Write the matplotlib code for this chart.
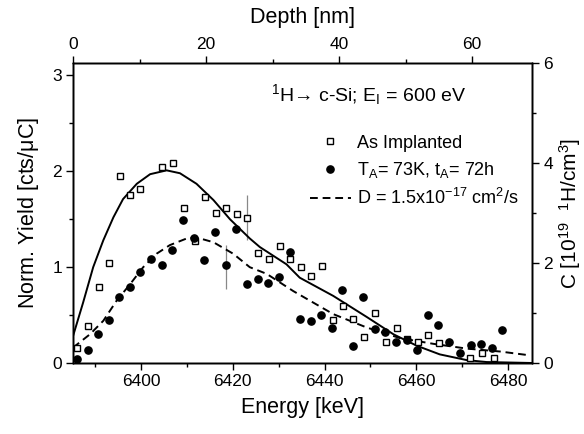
import matplotlib
matplotlib.use("Agg")
import matplotlib.pyplot as plt
from matplotlib.ticker import MultipleLocator

plt.rcParams['font.family'] = ['Liberation Sans', 'DejaVu Sans']
plt.rcParams['mathtext.fontset'] = 'custom'
plt.rcParams['mathtext.rm'] = 'Liberation Sans'
plt.rcParams['mathtext.it'] = 'Liberation Sans:italic'
plt.rcParams['mathtext.bf'] = 'Liberation Sans:bold'

# as implanted (open squares)
imp_E = [6386.1, 6388.5, 6390.8, 6393.0, 6395.4, 6397.7, 6399.9, 6404.6, 6407.0,
         6409.4, 6411.7, 6413.9, 6416.3, 6418.6, 6420.9, 6423.2, 6425.6, 6427.9,
         6430.2, 6432.5, 6434.9, 6437.1, 6439.4, 6441.8, 6444.1, 6446.3, 6448.7,
         6451.0, 6453.4, 6455.7, 6458.0, 6460.3, 6462.6, 6465.0, 6471.7, 6474.2,
         6477.0]
imp_Y = [0.16, 0.39, 0.79, 1.04, 1.95, 1.75, 1.82, 2.05, 2.09,
         1.62, 1.27, 1.73, 1.57, 1.62, 1.55, 1.51, 1.15, 1.09,
         1.22, 1.08, 1.00, 0.91, 1.01, 0.45, 0.59, 0.46, 0.27,
         0.52, 0.22, 0.37, 0.25, 0.22, 0.29, 0.21, 0.05, 0.10,
         0.05]

# annealed 73K, 72h (filled dots)
ann_E = [6386.0, 6388.4, 6390.6, 6393.0, 6395.3, 6397.6, 6399.9, 6402.2, 6404.5,
         6406.8, 6409.2, 6411.5, 6413.8, 6416.1, 6418.5, 6420.8, 6423.2, 6425.4,
         6427.7, 6430.1, 6432.4, 6434.7, 6437.0, 6439.3, 6441.6, 6443.9, 6446.3,
         6448.4, 6450.9, 6453.2, 6455.6, 6457.9, 6460.2, 6462.5, 6464.8, 6467.2,
         6469.5, 6471.8, 6474.1, 6476.4, 6478.7]
ann_Y = [0.045, 0.14, 0.30, 0.45, 0.69, 0.79, 0.95, 1.09, 1.02,
         1.18, 1.49, 1.30, 1.07, 1.37, 1.02, 1.40, 0.82, 0.88,
         0.83, 0.90, 1.16, 0.46, 0.44, 0.50, 0.37, 0.76, 0.18,
         0.69, 0.35, 0.32, 0.22, 0.24, 0.14, 0.50, 0.40, 0.22,
         0.10, 0.19, 0.20, 0.16, 0.34]

# single error bars
err_imp = (6423.2, 1.28, 1.75)
err_ann = (6418.5, 0.77, 1.23)

# fit curves
fit_E = [6385.2, 6387.4, 6389.6, 6391.8, 6394.0, 6396.1, 6399.1, 6402.0, 6405.6,
         6408.5, 6412.1, 6415.8, 6419.4, 6423.7, 6425.9, 6431.7, 6434.6, 6441.9,
         6449.2, 6455.0, 6460.1, 6465.1, 6471.0, 6475.3, 6485.2]
fit_Y = [0.28, 0.63, 1.00, 1.28, 1.52, 1.71, 1.87, 1.97, 2.01,
         1.98, 1.87, 1.70, 1.50, 1.30, 1.21, 1.03, 0.89, 0.70,
         0.48, 0.30, 0.18, 0.09, 0.03, 0.01, 0.0]

dif_E = [6385.2, 6388.9, 6391.8, 6394.7, 6397.6, 6400.5, 6403.4, 6406.3, 6410.0,
         6412.1, 6415.8, 6420.1, 6423.7, 6427.4, 6433.2, 6441.9, 6449.2, 6456.4,
         6463.7, 6471.0, 6478.2, 6484.7]
dif_Y = [0.16, 0.30, 0.44, 0.65, 0.82, 1.00, 1.14, 1.23, 1.30,
         1.31, 1.26, 1.14, 1.00, 0.93, 0.75, 0.51, 0.37, 0.26,
         0.20, 0.15, 0.12, 0.08]

fig = plt.figure(figsize=(5.84, 4.34), dpi=100)
ax = fig.add_axes([0.125, 0.1636, 0.786, 0.6912])

ax.vlines([err_imp[0], err_ann[0]], [err_imp[1], err_ann[1]], [err_imp[2], err_ann[2]],
          color='#888888', lw=0.9, zorder=1)
ax.plot(fit_E, fit_Y, '-', color='black', lw=1.4, zorder=2)
ax.plot(dif_E, dif_Y, '--', color='black', lw=1.4, dashes=(4, 2.5), zorder=2,
        label=r'D = 1.5x10$^\mathregular{-17}$ cm$^\mathregular{2}$/s')
ax.plot(imp_E, imp_Y, 's', mfc='white', mec='black', mew=1.0, ms=4.6, ls='none',
        zorder=3, label='As Implanted')
ax.plot(ann_E, ann_Y, 'o', color='black', ms=5.2, ls='none', zorder=3,
        label=r'T$_\mathregular{A}$= 73K, t$_\mathregular{A}$= 72h')

ax.set_xlim(6385.2, 6485.2)
ax.set_ylim(0, 3.13)
ax.xaxis.set_major_locator(MultipleLocator(20))
ax.xaxis.set_minor_locator(MultipleLocator(10))
ax.yaxis.set_major_locator(MultipleLocator(1))
ax.yaxis.set_minor_locator(MultipleLocator(0.5))
ax.set_xlabel('Energy [keV]', fontsize=15.5, labelpad=6)
ax.set_ylabel(r'Norm. Yield [cts/$\mathregular{\mu}$C]', fontsize=15.5, labelpad=8)

# top axis: depth
axt = ax.twiny()
axt.set_xlim(0, 69)
axt.xaxis.set_major_locator(MultipleLocator(20))
axt.xaxis.set_minor_locator(MultipleLocator(10))
axt.set_xlabel('Depth [nm]', fontsize=15.5, labelpad=10)

# right axis: concentration
axr = ax.twinx()
axr.set_ylim(0, 6)
axr.yaxis.set_major_locator(MultipleLocator(2))
axr.yaxis.set_minor_locator(MultipleLocator(1))
axr.set_ylabel(r'C [10$^\mathregular{19}$  $^\mathregular{1}$H/cm$^\mathregular{3}$]',
               fontsize=15, labelpad=3)

for a in (ax, axt, axr):
    a.tick_params(which='major', direction='out', length=5, width=1.0, labelsize=12.5, pad=3)
    a.tick_params(which='minor', direction='out', length=3, width=1.0)
    for s in a.spines.values():
        s.set_linewidth(1.0)

ax.text(0.643, 0.895, '$^\\mathregular{1}$H\u2192 c-Si; E$_\\mathregular{I}$ = 600 eV',
        transform=ax.transAxes, ha='center', va='center', fontsize=14)

handles, labels = ax.get_legend_handles_labels()
order = [1, 2, 0]
ax.legend([handles[i] for i in order], [labels[i] for i in order],
          loc='upper left', bbox_to_anchor=(0.5, 0.785), frameon=False,
          fontsize=13, handlelength=2.3, handletextpad=0.3, labelspacing=0.45,
          numpoints=1, borderaxespad=0)

fig.savefig('out.png', dpi=100)
